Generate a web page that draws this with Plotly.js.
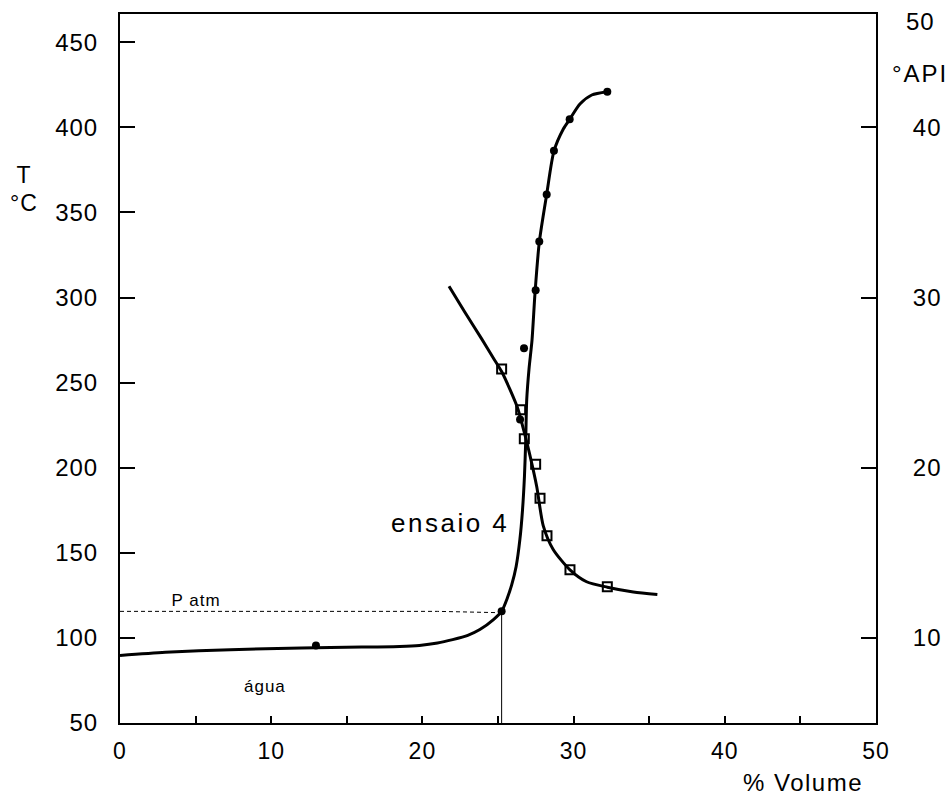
<!DOCTYPE html>
<html>
<head>
<meta charset="utf-8">
<script src="https://cdn.plot.ly/plotly-3.0.1.min.js"></script>
<style>
  html, body { margin: 0; padding: 0; background: #fff; }
  #chart { width: 952px; height: 799px; }
  .xtick text, .ytick text, .y2tick text { letter-spacing: 1px; }
</style>
</head>
<body>
<div id="chart"></div>
<script>
// Distillation curve: temperature (°C) vs % volume
const distVol  = [0, 3, 7.3, 12, 16, 18.5, 19.8, 21, 22, 23, 23.8, 24.7, 25.24, 25.6, 25.9, 26.2, 26.45, 26.62, 26.75, 26.83, 26.9, 27.05, 27.25, 27.45, 27.73, 28.22, 28.7, 29.32, 29.74, 30.42, 31.2, 32.23];
const distTemp = [89.6, 91.5, 93.1, 94, 94.6, 95, 95.6, 97, 99, 101.5, 104.9, 110.8, 115.6, 123, 131, 142, 158, 175, 195, 215, 240, 258, 275, 302.9, 332.4, 360.6, 386, 399, 404.7, 413.7, 419, 420.9];
// Measured distillation points (filled circles)
const distPtsVol  = [12.96, 25.24, 26.46, 26.72, 27.49, 27.73, 28.22, 28.70, 29.74, 32.23];
const distPtsTemp = [95.5, 115.6, 228.4, 270.2, 304.3, 332.9, 360.6, 386.2, 404.7, 420.9];
// °API curve vs % volume (right axis)
const apiVol = [21.76, 22.8, 23.9, 24.69, 25.24, 25.79, 26.3, 26.79, 27.12, 27.56, 27.99, 28.65, 29.76, 30.86, 32.23, 33.95, 35.54];
const apiVal = [30.66, 29.15, 27.6, 26.45, 25.65, 24.6, 23.5, 21.9, 20.7, 18.9, 16.6, 15.2, 14.0, 13.3, 12.98, 12.7, 12.55];
// Measured °API points (open squares)
const apiPtsVol = [25.24, 26.5, 26.74, 27.49, 27.78, 28.24, 29.76, 32.23];
const apiPtsVal = [25.8, 23.4, 21.7, 20.2, 18.2, 16.0, 14.0, 13.0];
// Atmospheric-pressure reference lines
const patmVol  = [0, 21, 25.24];
const patmTemp = [115.6, 115.6, 114.8];
const cutVol  = [25.24, 25.24];
const cutTemp = [50, 115.6];
// Axis ticks
const xTickVals = [0, 5, 10, 15, 20, 25, 30, 35, 40, 45, 50];
const xTickText = ['0', '', '10', '', '20', '', '30', '', '40', '', '50'];
const yTickVals = [50, 100, 150, 200, 250, 300, 350, 400, 450];
const y2TickVals = [10, 20, 30, 40];

const L = 120, R = 876, T = 14, B = 723.3;
const W = 952, H = 799;
const px = x => (x - L) / (R - L);
const py = y => (B - y) / (B - T);

const FONT = 'Liberation Sans, Arial, sans-serif';

const traces = [
  { x: patmVol, y: patmTemp, mode: 'lines', line: { color: 'black', width: 1, dash: '4px,3px' }, hoverinfo: 'skip' },
  { x: cutVol, y: cutTemp, mode: 'lines', line: { color: 'black', width: 1 }, hoverinfo: 'skip' },
  { x: distVol, y: distTemp, mode: 'lines', line: { color: 'black', width: 3, shape: 'spline', smoothing: 0.7 }, hoverinfo: 'skip' },
  { x: distPtsVol, y: distPtsTemp, mode: 'markers', marker: { symbol: 'circle', size: 8, color: 'black' }, hoverinfo: 'skip' },
  { x: apiVol, y: apiVal, yaxis: 'y2', mode: 'lines', line: { color: 'black', width: 3, shape: 'spline', smoothing: 0.7 }, hoverinfo: 'skip' },
  { x: apiPtsVol, y: apiPtsVal, yaxis: 'y2', mode: 'markers', marker: { symbol: 'square-open', size: 9, color: 'black', line: { width: 2, color: 'black' } }, hoverinfo: 'skip' }
];

const ann = (text, x, y, size) => ({
  text: text, xref: 'paper', yref: 'paper', x: px(x), y: py(y),
  xanchor: 'center', yanchor: 'middle', showarrow: false,
  font: { family: FONT, size: size, color: 'black' }
});

const annSpacing = [1, 1, 1, 2, 1.5, 2.5, 1, 1];

const layout = {
  width: W, height: H,
  margin: { l: L, r: W - R, t: T, b: H - B, pad: 0 },
  paper_bgcolor: 'white', plot_bgcolor: 'white',
  showlegend: false,
  font: { family: FONT, size: 24, color: 'black' },
  xaxis: {
    range: [0, 50], tickmode: 'array', tickvals: xTickVals, ticktext: xTickText,
    ticks: 'inside', ticklen: 7, tickwidth: 2, tickcolor: 'black',
    showline: true, linewidth: 2, linecolor: 'black', mirror: true,
    showgrid: false, zeroline: false, ticklabelstandoff: 6,
    tickfont: { family: FONT, size: 23, color: 'black' }
  },
  yaxis: {
    range: [50, 466.6], tickmode: 'array', tickvals: yTickVals,
    ticks: 'inside', ticklen: 15, tickwidth: 2, tickcolor: 'black',
    showline: true, linewidth: 2, linecolor: 'black',
    showgrid: false, zeroline: false, ticklabelstandoff: 15,
    tickfont: { family: FONT, size: 24, color: 'black' }
  },
  yaxis2: {
    range: [5, 46.66], overlaying: 'y', side: 'right', tickmode: 'array', tickvals: y2TickVals,
    ticks: 'inside', ticklen: 15, tickwidth: 2, tickcolor: 'black',
    showline: true, linewidth: 2, linecolor: 'black',
    showgrid: false, zeroline: false, ticklabelstandoff: 30,
    tickfont: { family: FONT, size: 24, color: 'black' }
  },
  annotations: [
    ann('T', 24, 175, 23),
    ann('°C', 23.5, 203, 23),
    ann('50', 920, 22, 24),
    ann('°API', 920, 74, 24),
    ann('% Volume', 803, 783, 24),
    ann('ensaio 4', 450, 523, 26),
    ann('P atm', 196, 601, 17),
    ann('água', 265, 687, 17)
  ]
};

Plotly.newPlot('chart', traces, layout, { staticPlot: true, displayModeBar: false }).then(gd => {
  const texts = gd.querySelectorAll('.annotation-text');
  texts.forEach((t, i) => { if (annSpacing[i] !== undefined) t.style.letterSpacing = annSpacing[i] + 'px'; });
});
</script>
</body>
</html>
